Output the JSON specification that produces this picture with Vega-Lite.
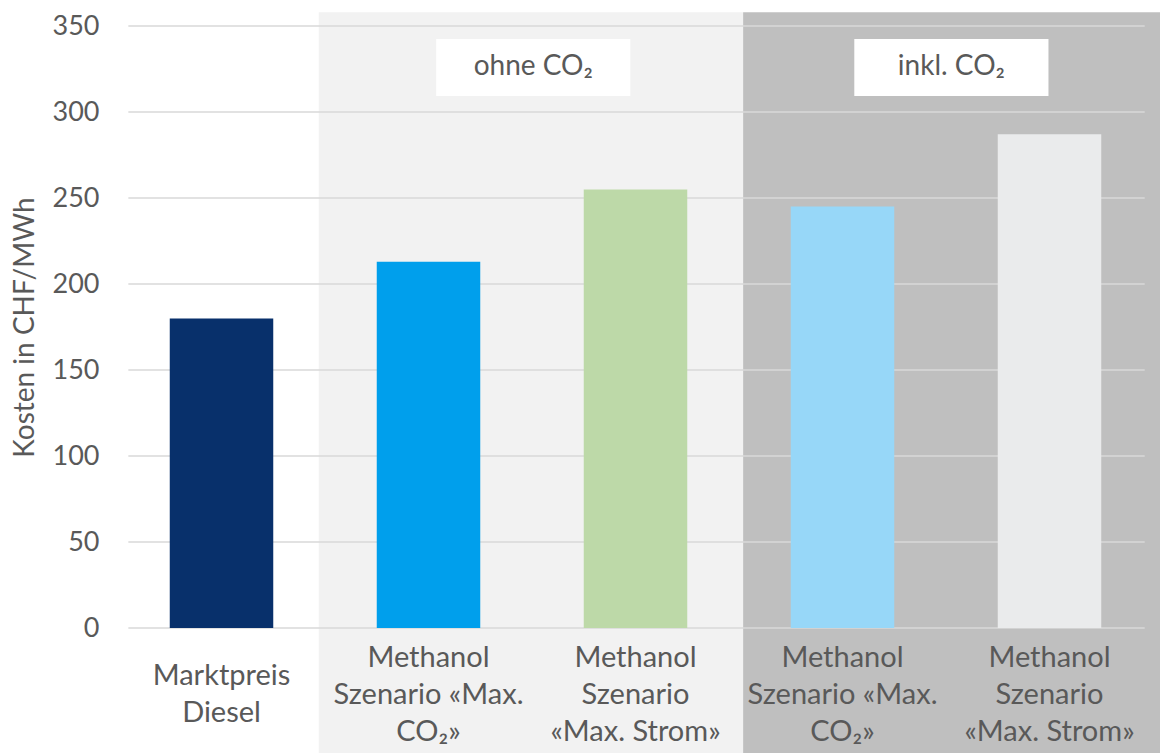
{
  "$schema": "https://vega.github.io/schema/vega-lite/v6.json",
  "width": 1035,
  "height": 602,
  "autosize": {"type": "none"},
  "padding": {"left": 118, "top": 26, "right": 7, "bottom": 125},
  "background": "white",
  "config": {
    "view": {"stroke": null},
    "font": "Lato, DejaVu Sans, sans-serif",
    "text": {"font": "Lato, DejaVu Sans, sans-serif"}
  },
  "datasets": {
    "costs": [
      {"pos": 1, "kosten": 180},
      {"pos": 2, "kosten": 213},
      {"pos": 3, "kosten": 255},
      {"pos": 4, "kosten": 245},
      {"pos": 5, "kosten": 287}
    ],
    "panels": [
      {"panel": "ohne", "from": 0.97, "to": 3.02, "top": 358, "bottom": -73},
      {"panel": "inkl", "from": 3.02, "to": 5.2, "top": 358, "bottom": -73}
    ],
    "grid": [
      {"v": 0}, {"v": 50}, {"v": 100}, {"v": 150}, {"v": 200}, {"v": 250}, {"v": 300}, {"v": 350}
    ],
    "tags": [
      {"tag": "ohne CO₂", "x0": 1.537, "x1": 2.475, "xm": 2.006, "y0": 309.3, "y1": 342.4, "ym": 325.9},
      {"tag": "inkl. CO₂", "x0": 3.557, "x1": 4.495, "xm": 4.026, "y0": 309.3, "y1": 342.4, "ym": 325.9}
    ]
  },
  "layer": [
    {
      "data": {"name": "panels"},
      "mark": {"type": "rect"},
      "encoding": {
        "x": {"field": "from", "type": "quantitative", "scale": {"domain": [0, 5], "nice": false, "zero": false}, "axis": null},
        "x2": {"field": "to"},
        "y": {
          "field": "top",
          "type": "quantitative",
          "scale": {"domain": [0, 350], "nice": false},
          "axis": {
            "title": "Kosten in CHF/MWh",
            "values": [0, 50, 100, 150, 200, 250, 300, 350],
            "grid": false,
            "domain": false,
            "ticks": false,
            "zindex": 1,
            "labelFontSize": 27,
            "labelColor": "#595959",
            "labelPadding": 19,
            "titleFontSize": 28,
            "titleFontWeight": "normal",
            "titleColor": "#595959",
            "titlePadding": 13
          }
        },
        "y2": {"field": "bottom"},
        "fill": {"field": "panel", "type": "nominal", "scale": {"domain": ["ohne", "inkl"], "range": ["#F2F2F2", "#BFBFBF"]}, "legend": null}
      }
    },
    {
      "data": {"name": "grid"},
      "mark": {"type": "rule", "color": "#D9D9D9", "strokeWidth": 1.5},
      "encoding": {
        "x": {"datum": 0.05, "type": "quantitative", "scale": {"domain": [0, 5], "nice": false, "zero": false}, "axis": null},
        "x2": {"datum": 4.96},
        "y": {"field": "v", "type": "quantitative"}
      }
    },
    {
      "data": {"name": "tags"},
      "mark": {"type": "rect", "fill": "white"},
      "encoding": {
        "x": {"field": "x0", "type": "quantitative", "scale": {"domain": [0, 5], "nice": false, "zero": false}, "axis": null},
        "x2": {"field": "x1"},
        "y": {"field": "y0", "type": "quantitative"},
        "y2": {"field": "y1"}
      }
    },
    {
      "data": {"name": "tags"},
      "mark": {"type": "text", "fontSize": 28, "color": "#595959", "align": "center", "baseline": "middle"},
      "encoding": {
        "x": {"field": "xm", "type": "quantitative", "scale": {"domain": [0, 5], "nice": false, "zero": false}, "axis": null},
        "y": {"field": "ym", "type": "quantitative"},
        "text": {"field": "tag"}
      }
    },
    {
      "data": {"name": "costs"},
      "mark": {"type": "bar"},
      "encoding": {
        "x": {
          "field": "pos",
          "type": "ordinal",
          "scale": {"paddingInner": 0.5, "paddingOuter": 0.25},
          "axis": {
            "title": null,
            "domain": false,
            "ticks": false,
            "zindex": 1,
            "labelAngle": 0,
            "labelFontSize": 29,
            "labelColor": "#595959",
            "labelLineHeight": 37,
            "labelBaseline": "middle",
            "labelPadding": {"condition": {"test": "datum.value == 1", "value": 47}, "value": 29},
            "labelLimit": 300,
            "labelOverlap": false,
            "labelExpr": "[['Marktpreis','Diesel'],['Methanol','Szenario «Max.','CO₂»'],['Methanol','Szenario','«Max. Strom»'],['Methanol','Szenario «Max.','CO₂»'],['Methanol','Szenario','«Max. Strom»']][datum.value - 1]"
          }
        },
        "y": {"field": "kosten", "type": "quantitative"},
        "color": {
          "field": "pos",
          "type": "ordinal",
          "scale": {"domain": [1, 2, 3, 4, 5], "range": ["#08306B", "#009FEC", "#BDD9A8", "#97D7F8", "#EAEBEC"]},
          "legend": null
        }
      }
    }
  ],
  "resolve": {"scale": {"x": "independent"}}
}
